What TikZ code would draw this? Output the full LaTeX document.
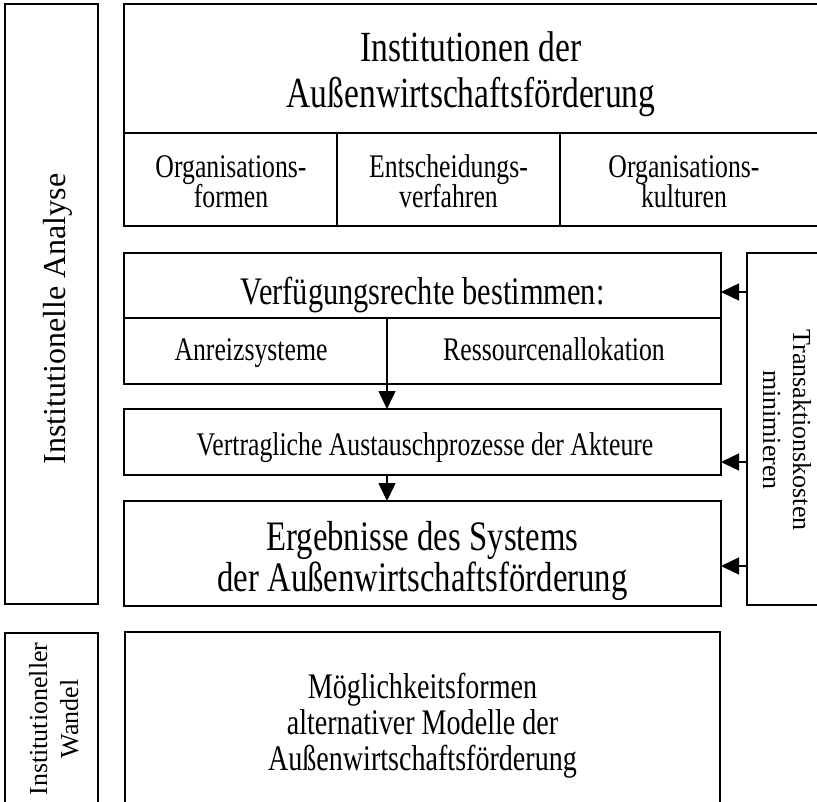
\documentclass[tikz,border=0pt]{standalone}
\usepackage{fontspec}
\setmainfont{Liberation Serif}
\newfontfamily\cnd[FakeStretch=0.78]{Liberation Serif}
\usetikzlibrary{arrows.meta}
\newcommand\mlines[1]{\vtop{\lineskiplimit=-100pt\lineskip=0pt\halign{\hfil##\hfil\cr#1\crcr}}}
\begin{document}
\begin{tikzpicture}[x=1pt,y=-1pt,
  box/.style={draw, line width=1.7pt, inner sep=0pt, outer sep=0pt},
  txt/.style={inner sep=0pt, anchor=base},
  arr/.style={line width=1.5pt, -{Triangle[length=18pt,width=17pt]}},
  bigtxt/.style={font=\cnd\fontsize{43}{46}\selectfont},
  ergtxt/.style={font=\cnd\fontsize{42}{41}\selectfont},
  midtxt/.style={font=\cnd\fontsize{39}{39}\selectfont},
  smltxt/.style={font=\cnd\fontsize{33}{30}\selectfont},
  bottxt/.style={font=\cnd\fontsize{36}{36}\selectfont}
]
\useasboundingbox (0,0) rectangle (817,801);
% boxes
\node[box, minimum width=93pt, minimum height=600pt] (la) at (51.5,304) {};
\node[box, minimum width=695pt, minimum height=129pt] (ttl) at (471.5,68.5) {};
\node[box, minimum width=213pt, minimum height=93pt] (c1) at (230.5,179.5) {};
\node[box, minimum width=223pt, minimum height=93pt] (c2) at (448.5,179.5) {};
\node[box, minimum width=259pt, minimum height=93pt] (c3) at (689.5,179.5) {};
\node[box, minimum width=597pt, minimum height=65pt] (verf) at (422.5,285.5) {};
\node[box, minimum width=263pt, minimum height=66pt] (anr) at (255.5,351) {};
\node[box, minimum width=334pt, minimum height=66pt] (res) at (554,351) {};
\node[box, minimum width=597pt, minimum height=66pt] (vert) at (422.5,442) {};
\node[box, minimum width=597pt, minimum height=105pt] (erg) at (422.5,553.5) {};
\node[box, minimum width=72pt, minimum height=352pt] (trans) at (783,429) {};
\node[box, minimum width=93pt, minimum height=177pt] (iw) at (51.5,721.5) {};
\node[box, minimum width=595pt, minimum height=178pt] (mog) at (422.5,721) {};
% texts
\node[txt, rotate=90, font=\fontsize{32}{38}\selectfont] (tla) at (65,319) {Institutionelle Analyse};
\node[txt, bigtxt] (tttl) at (471,61) {\mlines{Institutionen der\cr Außenwirtschaftsförderung}};
\node[txt, smltxt] (tc1) at (231,177) {\mlines{Organisations-\cr formen}};
\node[txt, smltxt] (tc2) at (448.5,177) {\mlines{Entscheidungs-\cr verfahren}};
\node[txt, smltxt] (tc3) at (684,177) {\mlines{Organisations-\cr kulturen}};
\node[txt, midtxt] (tverf) at (422.5,304) {Verfügungsrechte bestimmen:};
\node[txt, smltxt] (tanr) at (251,360) {Anreizsysteme};
\node[txt, smltxt] (tres) at (554,360) {Ressourcenallokation};
\node[txt, smltxt] (tvert) at (425,455) {Vertragliche Austauschprozesse der Akteure};
\node[txt, ergtxt] (terg) at (422.5,550.5) {\mlines{Ergebnisse des Systems\cr der Außenwirtschaftsförderung}};
\node[txt, rotate=-90, font=\fontsize{26}{30}\selectfont] (ttrans) at (793,430) {\mlines{Transaktionskosten\cr minimieren}};
\node[txt, rotate=90, font=\fontsize{26}{31}\selectfont] (tiw) at (47,719) {\mlines{Institutioneller\cr Wandel}};
\node[txt, bottxt] (tmog) at (422.5,698) {\mlines{Möglichkeitsformen\cr alternativer Modelle der\cr Außenwirtschaftsförderung}};
% arrows
\draw[arr] (anr.south east) -- (vert.north -| anr.south east);
\draw[arr] (vert.south -| anr.south east) -- (erg.north -| anr.south east);
\draw[arr] (trans.west |- 0,292) -- (verf.east |- 0,292);
\draw[arr] (trans.west |- 0,462) -- (vert.east |- 0,462);
\draw[arr] (trans.west |- 0,566) -- (erg.east |- 0,566);
\end{tikzpicture}
\end{document}
